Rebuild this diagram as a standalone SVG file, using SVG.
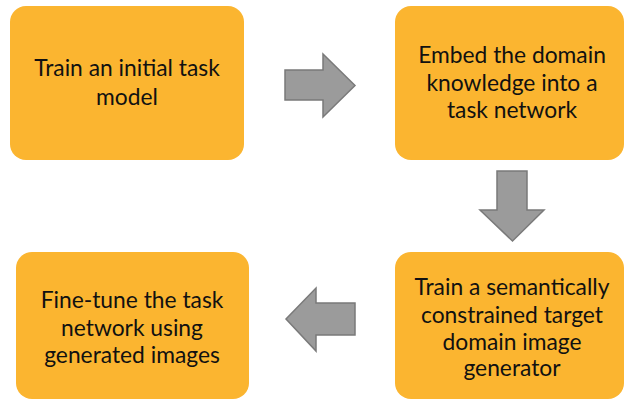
<svg xmlns="http://www.w3.org/2000/svg" width="626" height="403" viewBox="0 0 626 403">
<style>
.box{fill:#FBB530;}
.t{font-family:"Lato","Liberation Sans",sans-serif;font-size:22.8px;fill:#111111;text-anchor:middle;}
.arr{fill:#9B9B9B;stroke:#7A7A7A;stroke-width:1.5;stroke-linejoin:miter;}
</style>
<rect width="626" height="403" fill="#ffffff"/>
<g id="n1">
<rect class="box" x="10" y="6" width="234" height="154" rx="16"/>
<text class="t" x="127" y="76">Train an initial task</text>
<text class="t" x="127" y="105">model</text>
</g>
<g id="n2">
<rect class="box" x="395" y="6" width="229" height="154" rx="16"/>
<text class="t" x="512" y="63">Embed the domain</text>
<text class="t" x="512" y="91">knowledge into a</text>
<text class="t" x="512" y="118">task network</text>
</g>
<g id="n3">
<rect class="box" x="16" y="252" width="233" height="147" rx="16"/>
<text class="t" x="132" y="308">Fine-tune the task</text>
<text class="t" x="132" y="336">network using</text>
<text class="t" x="132" y="363">generated images</text>
</g>
<g id="n4">
<rect class="box" x="395" y="252" width="229" height="147" rx="16"/>
<text class="t" x="512" y="295">Train a semantically</text>
<text class="t" x="512" y="323">constrained target</text>
<text class="t" x="512" y="350">domain image</text>
<text class="t" x="512" y="376">generator</text>
</g>
<g id="connectors">
<polygon class="arr" points="285,70 323,70 323,54 355,85.5 323,117 323,100 285,100"/>
<polygon class="arr" points="497,171 527,171 527,210 544,210 512.5,241 480,210 497,210"/>
<polygon class="arr" points="355,303 316,303 316,288 286,319 316,351 316,335 355,335"/>
</g>
</svg>
